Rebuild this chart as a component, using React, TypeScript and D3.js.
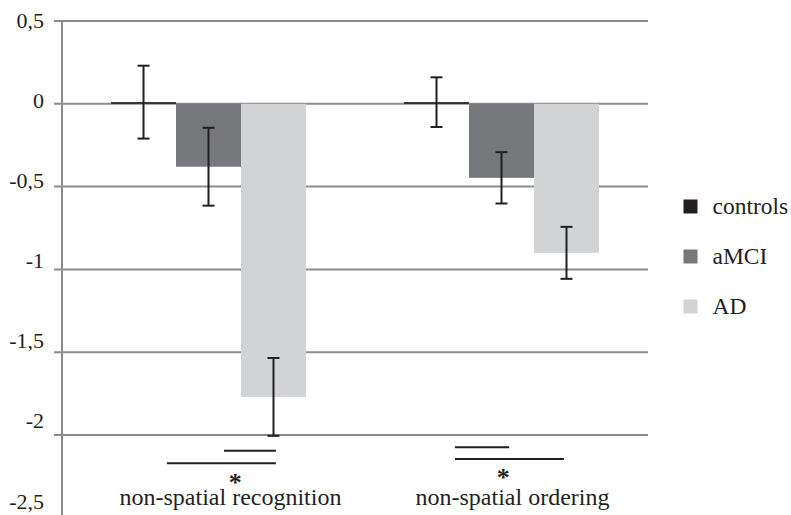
import React from "react";
import * as d3 from "d3";

const categories = ["non-spatial recognition", "non-spatial ordering"];
const series = ["controls", "aMCI", "AD"];
const controlsValues = [0.01, 0.01];
const aMCIValues = [-0.38, -0.447];
const adValues = [-1.77, -0.9];
const controlsErrors = [0.22, 0.15];
const aMCIErrors = [0.235, 0.155];
const adErrors = [0.235, 0.157];
const yTicks = [0.5, 0, -0.5, -1, -1.5, -2, -2.5];
const yTickLabels = ["0,5", "0", "-0,5", "-1", "-1,5", "-2", "-2,5"];
const significanceMarks = ["*", "*"];
const colors = ["#231f20", "#77787b", "#d1d3d4"];

const W = 791;
const H = 515;
const FONT = '"Liberation Serif"';

export default function App() {
  const x0 = d3.scaleBand<string>().domain(categories).range([62, 648]).padding(0);
  const x1 = d3
    .scaleBand<string>()
    .domain(series)
    .range([0, x0.bandwidth()])
    .paddingInner(0)
    .paddingOuter(0.754);
  const y = d3.scaleLinear().domain([0.5, -2.5]).range([21, 517.8]);
  const yLabel = d3.scaleLinear().domain([0.5, -2.5]).range([20, 501]);

  const valuesBySeries = [controlsValues, aMCIValues, adValues];
  const errorsBySeries = [controlsErrors, aMCIErrors, adErrors];

  const sigLines = [
    { cat: 0, from: 0.553, to: 0.73, y: 450.7 },
    { cat: 0, from: 0.358, to: 0.73, y: 463.3 },
    { cat: 1, from: 0.341, to: 0.526, y: 447.3 },
    { cat: 1, from: 0.341, to: 0.713, y: 459 },
  ];
  const stars = [
    { frac: 0.591, y: 478 },
    { frac: 0.506, y: 473 },
  ];
  const labelOffsets = [22, 11];

  const bars: any[] = [];
  categories.forEach((c, ci) => {
    series.forEach((s, si) => {
      const v = valuesBySeries[si][ci];
      const e = errorsBySeries[si][ci];
      const bx = (x0(c) as number) + (x1(s) as number);
      bars.push({ key: `${c}-${s}`, x: bx, w: x1.bandwidth(), v, e, color: colors[si] });
    });
  });

  const ts = { fontFamily: FONT };

  return (
    <svg
      width={W}
      height={H}
      style={{ position: "absolute", left: 0, top: 0, background: "#fff" }}
    >
      <rect x={0} y={0} width={W} height={H} fill="#fff" />
      {yTicks.map((t) => (
        <line key={`g${t}`} x1={54} x2={648} y1={y(t)} y2={y(t)} stroke="#8c8c8c" strokeWidth={2} />
      ))}
      <line x1={62} x2={62} y1={y(0.5)} y2={H} stroke="#8c8c8c" strokeWidth={2} />
      {yTicks.map((t, i) => (
        <text
          key={`l${t}`}
          x={44}
          y={yLabel(t)}
          textAnchor="end"
          dominantBaseline="central"
          fontSize={22}
          fill="#231f20"
          style={ts}
        >
          {yTickLabels[i]}
        </text>
      ))}
      {bars.map((b) => (
        <rect
          key={b.key}
          x={b.x}
          y={Math.min(y(0), y(b.v))}
          width={b.w}
          height={Math.max(1.5, Math.abs(y(b.v) - y(0)))}
          fill={b.color}
        />
      ))}
      {bars.map((b) => {
        const cx = b.x + b.w / 2;
        const top = y(b.v + b.e);
        const bot = y(b.v - b.e);
        return (
          <g key={`e${b.key}`} stroke="#231f20" strokeWidth={2}>
            <line x1={cx} x2={cx} y1={top} y2={bot} />
            <line x1={cx - 6} x2={cx + 6} y1={top} y2={top} />
            <line x1={cx - 6} x2={cx + 6} y1={bot} y2={bot} />
          </g>
        );
      })}
      {sigLines.map((s, i) => {
        const bx = x0(categories[s.cat]) as number;
        const bw = x0.bandwidth();
        return (
          <line
            key={`s${i}`}
            x1={bx + s.from * bw}
            x2={bx + s.to * bw}
            y1={s.y}
            y2={s.y}
            stroke="#231f20"
            strokeWidth={2}
          />
        );
      })}
      {categories.map((c, i) => {
        const bx = x0(c) as number;
        const bw = x0.bandwidth();
        return (
          <text key={`c${c}`} fill="#231f20" textAnchor="middle" style={ts}>
            <tspan
              x={bx + stars[i].frac * bw}
              y={stars[i].y + 12.5}
              fontSize={26}
              fontWeight="bold"
            >
              {significanceMarks[i]}
            </tspan>
            <tspan x={bx + bw / 2 + labelOffsets[i]} y={505} fontSize={24}>
              {c}
            </tspan>
          </text>
        );
      })}
      {series.map((s, i) => (
        <g key={`lg${s}`} transform={`translate(683.5, ${199.5 + i * 50})`}>
          <rect x={0} y={0} width={14} height={14} fill={colors[i]} />
          <text x={29} y={14} fontSize={23.5} fill="#231f20" style={ts}>
            {s}
          </text>
        </g>
      ))}
    </svg>
  );
}
